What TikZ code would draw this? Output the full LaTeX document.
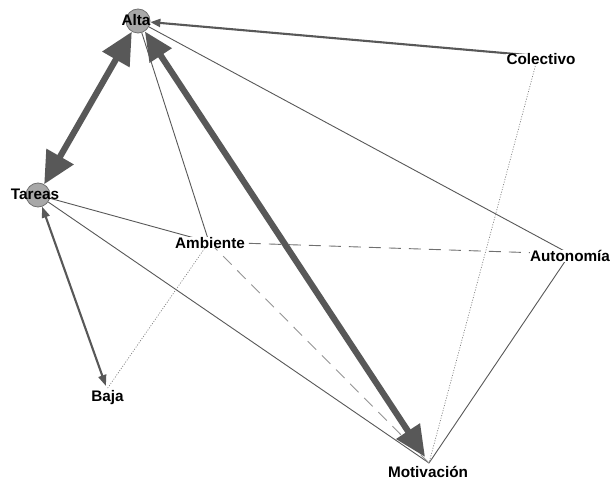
\documentclass[tikz,border=0pt]{standalone}
\usepackage{fontspec}
\setmainfont{Liberation Sans}
\usetikzlibrary{arrows.meta}
\definecolor{edgec}{HTML}{585858}
\definecolor{dashc}{HTML}{707070}
\definecolor{dashlc}{HTML}{959595}
\definecolor{dotc}{HTML}{808080}
\definecolor{vfill}{HTML}{A8A8A8}
\definecolor{vdraw}{HTML}{707070}
\begin{document}
\begin{tikzpicture}[x=1pt,y=-1pt,
  vtx/.style={circle,inner sep=0pt,minimum size=24pt,fill=vfill,draw=vdraw,line width=0.8pt},
  pnt/.style={circle,inner sep=0pt,minimum size=#1},
  lblbase/.style={font=\fontsize{15.3}{15.3}\selectfont\bfseries,text=black,text height=11pt,text depth=0pt},
  lbl/.style={lblbase,inner sep=0.4pt,fill=white},
  lblc/.style={lblbase,inner sep=0pt},
  thinline/.style={draw=edgec,line width=0.9pt},
  thickline/.style={draw=edgec,line width=6.2pt},
  midline/.style={draw=edgec,line width=2.1pt},
  dashline/.style={draw=dashc,line width=0.9pt,dash pattern=on 12pt off 8pt},
  dashlight/.style={draw=dashlc,line width=0.9pt,dash pattern=on 12pt off 8pt},
  dotline/.style={draw=dotc,line width=0.7pt,dash pattern=on 1pt off 1.6pt},
  bigtip/.style={Triangle[length=32pt,width=30pt]},
  smalltip/.style={Triangle[length=11pt,width=8pt]}
]
\useasboundingbox (0,0) rectangle (612,481);
\fill[white] (0,0) rectangle (612,481);

% vertices
\node[vtx] (alta) at (138,21) {};
\node[vtx] (tareas) at (38,195) {};
\node[pnt=4pt] (colect) at (538,56) {};
\node[pnt=2pt] (ambi) at (209,242) {};
\node[pnt=2pt] (auton) at (570,254) {};
\node[pnt=6pt] (baja) at (107,389) {};
\node[pnt=14pt] (motiv) at (429,463) {};

% thin solid edges
\draw[thinline] (alta) -- (auton.center);
\draw[thinline] (alta) -- (ambi.center);
\draw[thinline] (tareas) -- (ambi.center);
\draw[thinline] (tareas) -- (motiv.center);
\draw[thinline] (auton.center) -- (motiv.center);

% dashed edges
\draw[dashline] (ambi.center) -- (auton.center);
\draw[dashlight] (ambi.center) -- (motiv.center);

% dotted edges
\draw[dotline] (ambi.center) -- (baja.center);
\draw[dotline] (colect.center) -- (motiv.center);

% medium edges
\draw[midline,-{Triangle[length=10pt,width=8pt]}] (colect.center) -- (alta);
\draw[midline,{Triangle[length=11pt,width=8pt]}-{Triangle[length=11pt,width=8pt]}] (tareas) -- (baja);

% thick edges
\draw[thickline,{Triangle[length=32pt,width=30pt]}-{Triangle[length=32pt,width=30pt]}] (alta) -- (tareas);
\draw[thickline,{Triangle[length=29pt,width=25pt]}-{Triangle[length=31pt,width=27pt]}] (alta) -- (motiv);

% labels
\node[lblc] (altaL) at (136,20) {Alta};
\node[lblc] (tareasL) at (35,194) {Tareas};
\node[lbl] (colectL) at (541,59.5) {Colectivo};
\node[lbl] (ambiL) at (210,242.5) {Ambiente};
\node[lbl] (autonL) at (570,256) {Autonomía};
\node[lbl] (bajaL) at (107.5,396) {Baja};
\node[lbl] (motivL) at (428,471.5) {Motivación};
\end{tikzpicture}
\end{document}
